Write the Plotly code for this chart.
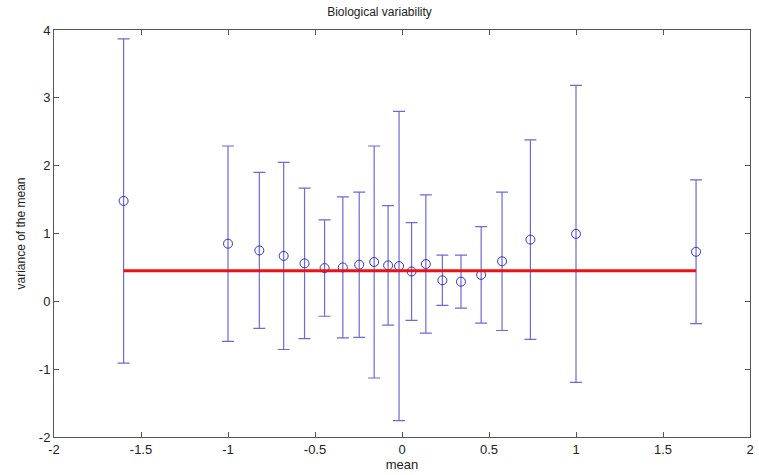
import plotly.graph_objects as go

x_vals = [-1.60, -1.00, -0.82, -0.68, -0.56, -0.445, -0.34, -0.246, -0.16, -0.08,
          -0.017, 0.055, 0.137, 0.232, 0.339, 0.455, 0.575, 0.738, 1.00, 1.69]
means = [1.48, 0.85, 0.75, 0.67, 0.56, 0.49, 0.50, 0.54, 0.58, 0.53,
         0.52, 0.44, 0.55, 0.31, 0.29, 0.39, 0.59, 0.91, 0.995, 0.73]
errs = [2.39, 1.44, 1.15, 1.38, 1.11, 0.71, 1.04, 1.07, 1.71, 0.88,
        2.28, 0.72, 1.02, 0.37, 0.39, 0.71, 1.02, 1.47, 2.19, 1.06]
overall_mean = 0.45

x_ticks = [-2, -1.5, -1, -0.5, 0, 0.5, 1, 1.5, 2]
y_ticks = [-2, -1, 0, 1, 2, 3, 4]

fig = go.Figure()
fig.add_trace(go.Scatter(
    x=x_vals, y=means, mode="markers",
    marker=dict(symbol="circle-open", size=9, color="#3333cc", line=dict(width=1)),
    error_y=dict(type="data", array=errs, visible=True, color="#6a6ad8", thickness=1.2, width=6),
    showlegend=False,
))
fig.add_trace(go.Scatter(
    x=[min(x_vals), max(x_vals)], y=[overall_mean, overall_mean], mode="lines",
    line=dict(color="#ee1111", width=3), showlegend=False,
))

axis_common = dict(showgrid=False, zeroline=False, showline=True, linecolor="#555555",
                   linewidth=1, mirror="ticks", ticks="inside", ticklen=5, tickcolor="#555555",
                   tickfont=dict(family="Liberation Sans, Arial", size=13, color="#222222"))
fig.update_xaxes(range=[-2, 2], tickvals=x_ticks, ticktext=[f"{t:g}" for t in x_ticks],
                 title=dict(text="mean", font=dict(family="Liberation Sans, Arial", size=13, color="#222222"), standoff=2),
                 **axis_common)
fig.update_yaxes(range=[-2, 4], tickvals=y_ticks, ticktext=[f"{t:g}" for t in y_ticks],
                 title=dict(text="variance of the mean", font=dict(family="Liberation Sans, Arial", size=12, color="#222222"), standoff=10),
                 **axis_common)
fig.update_layout(
    width=759, height=475,
    margin=dict(l=54, r=5, t=30, b=38),
    paper_bgcolor="white", plot_bgcolor="white",
    title=dict(text="Biological variability", x=0.5, xanchor="center", y=0.975, yanchor="middle",
               font=dict(family="Liberation Sans, Arial", size=12, color="#222222")),
)
fig.write_html("out.html")
